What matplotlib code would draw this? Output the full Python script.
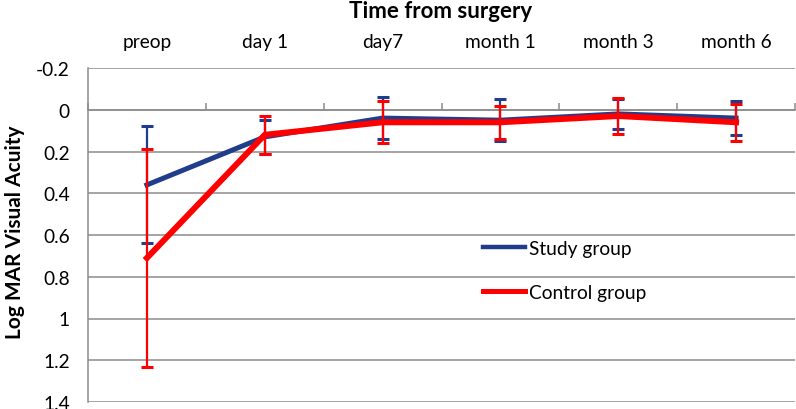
import matplotlib
matplotlib.use("Agg")
import matplotlib.pyplot as plt
from matplotlib.lines import Line2D
import numpy as np

categories = ["preop", "day 1", "day7", "month 1", "month 3", "month 6"]
study_mean = [0.36, 0.13, 0.04, 0.05, 0.02, 0.04]
study_err = [0.28, 0.08, 0.10, 0.10, 0.07, 0.08]
control_mean = [0.71, 0.12, 0.06, 0.06, 0.03, 0.06]
control_err = [0.52, 0.09, 0.10, 0.08, 0.085, 0.088]
yticks = [-0.2, 0, 0.2, 0.4, 0.6, 0.8, 1.0, 1.2, 1.4]
ytick_labels = ["-0.2", "0", "0.2", "0.4", "0.6", "0.8", "1", "1.2", "1.4"]

plt.rcParams['font.family'] = ['Lato', 'DejaVu Sans']

fig = plt.figure(figsize=(7.96, 4.10), dpi=100)
ax = fig.add_axes([88/796, 1-403/410, (795-88)/796, (403-69)/410])

x = np.arange(len(categories))
blue = "#1f3d8a"
red = "#ff0000"

ax.errorbar(x, study_mean, yerr=study_err, color=blue, lw=3.6, elinewidth=1.6,
            capsize=4, capthick=2.2, label="Study group", zorder=3)
ax.errorbar(x, control_mean, yerr=control_err, color=red, lw=4.3, elinewidth=1.6,
            capsize=4, capthick=2.2, label="Control group", zorder=4)

ax.set_xlim(-0.5, len(categories) - 0.5)
ax.set_ylim(1.4, -0.2)
ax.set_yticks(yticks)
ax.set_yticklabels(ytick_labels)
ax.yaxis.grid(True, color="#8c8c8c", lw=1.1)
ax.set_axisbelow(True)

ax.set_xticks(x)
ax.set_xticklabels(categories)
ax.set_xticks(np.arange(-0.5, len(categories)), minor=True)
ax.tick_params(axis='x', which='major', length=0, labelbottom=False, labeltop=True,
               bottom=False, top=False, pad=13, labelsize=13.8)
ax.tick_params(axis='x', which='minor', direction='in', length=5, width=1.1,
               color="#8c8c8c", bottom=True, top=False)
ax.tick_params(axis='y', length=0, pad=13, labelsize=13.8)

ax.spines['bottom'].set_position(('data', 0))
ax.spines['bottom'].set_color("#8c8c8c")
ax.spines['bottom'].set_linewidth(1.1)
ax.spines['left'].set_color("#8c8c8c")
ax.spines['left'].set_linewidth(1.1)
ax.spines['top'].set_visible(False)
ax.spines['right'].set_visible(False)

fig.text(441/796, 1-11/410, "Time from surgery", ha='center', va='center',
         fontsize=16, fontweight='bold')
fig.text(15/796, 1-232/410, "Log MAR Visual Acuity", ha='center', va='center',
         rotation=90, fontsize=15, fontweight='bold')

labels = ["Study group", "Control group"]
h = [Line2D([0], [0], color=blue, lw=3.2), Line2D([0], [0], color=red, lw=3.6)]
fig.legend(h, labels, loc='upper left', bbox_to_anchor=(473/796, 1-231/410),
           frameon=False, fontsize=13.8, handlelength=2.2, handletextpad=0.2,
           labelspacing=1.42, borderpad=0)

fig.savefig("out.png", dpi=100)
